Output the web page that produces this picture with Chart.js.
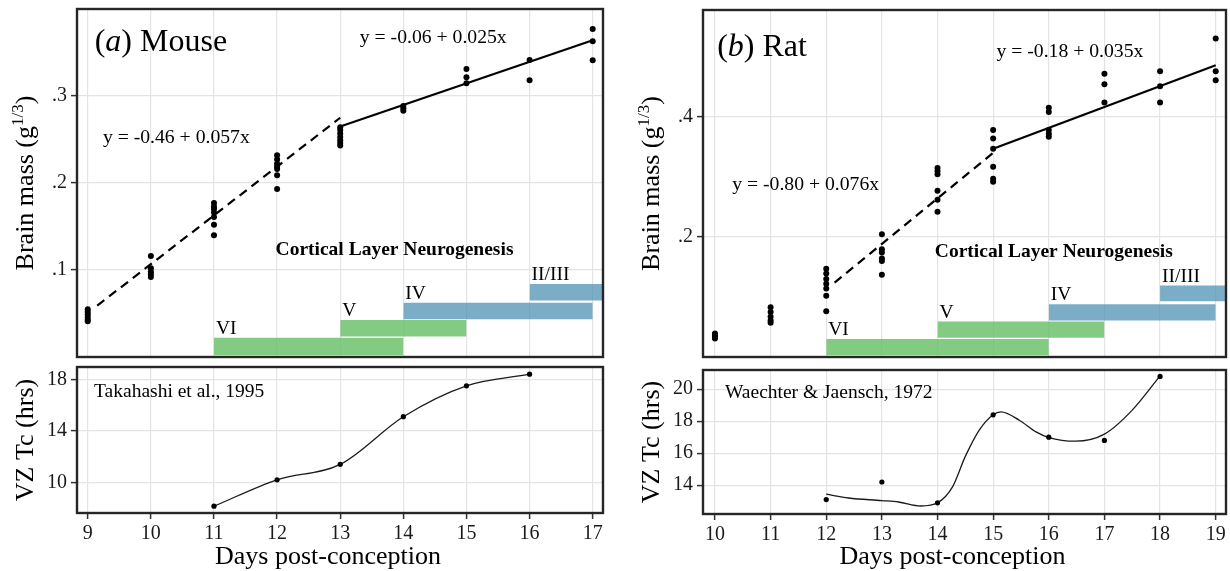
<!DOCTYPE html>
<html>
<head>
<meta charset="utf-8">
<title>Brain mass and VZ cell cycle, mouse and rat</title>
<script src="https://cdn.jsdelivr.net/npm/chart.js@4.4.1/dist/chart.umd.min.js"></script>
<style>
  body { margin: 0; background: #fff; }
  #wrap { position: relative; width: 1230px; height: 571px; }
  #wrap canvas { position: absolute; left: 0; top: 0; }
</style>
</head>
<body>
<div id="wrap">
  <canvas id="mouseMass" width="1230" height="571"></canvas>
  <canvas id="mouseTc" width="1230" height="571"></canvas>
  <canvas id="ratMass" width="1230" height="571"></canvas>
  <canvas id="ratTc" width="1230" height="571"></canvas>
</div>
<script>
var SERIF = '"Liberation Serif", "Times New Roman", serif';

// days post-conception
var mouseDays = [9, 10, 11, 12, 13, 14, 15, 16, 17];
var ratDays = [10, 11, 12, 13, 14, 15, 16, 17, 18, 19];

// brain mass (g^1/3), one list per day
var mouseMass = [
  [0.055, 0.052, 0.049, 0.046, 0.043, 0.041],
  [0.116, 0.102, 0.098, 0.095, 0.092],
  [0.177, 0.173, 0.170, 0.166, 0.161, 0.152, 0.140],
  [0.232, 0.227, 0.222, 0.219, 0.216, 0.209, 0.193],
  [0.264, 0.261, 0.257, 0.253, 0.249, 0.246, 0.243],
  [0.2885, 0.286, 0.283],
  [0.331, 0.3215, 0.3146],
  [0.3414, 0.318],
  [0.377, 0.363, 0.341]
];
var ratMass = [
  [0.039, 0.036, 0.034, 0.031],
  [0.083, 0.075, 0.067, 0.061, 0.057],
  [0.147, 0.139, 0.130, 0.122, 0.114, 0.102, 0.076],
  [0.2045, 0.1795, 0.174, 0.164, 0.160, 0.137],
  [0.315, 0.310, 0.3045, 0.277, 0.262, 0.242],
  [0.378, 0.364, 0.347, 0.317, 0.297, 0.292],
  [0.415, 0.408, 0.378, 0.372, 0.367],
  [0.472, 0.4545, 0.424],
  [0.476, 0.451, 0.424],
  [0.5305, 0.476, 0.461]
];

// fitted lines (ends)
var mouseEarlyX = [9.15, 13], mouseEarlyY = [0.059, 0.275];
var mouseLateX = [13, 17], mouseLateY = [0.265, 0.364];
var ratEarlyX = [12.15, 15], ratEarlyY = [0.124, 0.34];
var ratLateX = [15, 19], ratLateY = [0.347, 0.486];

// cortical layer neurogenesis windows
var layerNames = ['VI', 'V', 'IV', 'II/III'];
var mouseLayerStart = [11, 13, 14, 16];
var mouseLayerEnd = [14, 15, 17, 17.5];
var mouseLayerLow = [0.002, 0.0235, 0.0435, 0.065];
var mouseLayerHigh = [0.022, 0.0425, 0.0625, 0.084];
var ratLayerStart = [12, 14, 16, 18];
var ratLayerEnd = [16, 17, 19, 19.5];
var ratLayerLow = [0.003, 0.032, 0.061, 0.093];
var ratLayerHigh = [0.030, 0.059, 0.088, 0.119];

// VZ cell cycle length (hrs)
var mouseTcDays = [11, 12, 13, 14, 15, 16];
var mouseTc = [8.15, 10.2, 11.4, 15.1, 17.5, 18.4];
var ratTcDays = [12, 13, 14, 15, 16, 17, 18];
var ratTc = [13.1, 14.2, 12.9, 18.4, 17.0, 16.8, 20.8];
var ratSmoothDays = [12, 12.4, 13, 13.3, 13.7, 14, 14.27, 14.5, 14.75, 15, 15.14, 15.47, 15.77, 16, 16.48, 17, 17.5, 18];
var ratSmooth = [13.44, 13.2, 13.04, 12.95, 12.7, 12.9, 13.9, 15.8, 17.44, 18.4, 18.58, 18.06, 17.33, 16.98, 16.75, 17.19, 18.69, 20.83];

// tick values
var mouseMassTicks = [0.1, 0.2, 0.3];
var ratMassTicks = [0.2, 0.4];
var mouseTcTicks = [10, 14, 18];
var ratTcTicks = [14, 16, 18, 20];

var GRID = '#e4e4e4';
var GREEN = 'rgba(100,190,100,0.8)';
var BLUE = 'rgba(80,145,180,0.75)';

function pts(xs, ys){
  return xs.map(function(x, i){ return {x: x, y: ys[i]}; });
}
function groupPts(days, groups){
  var out = [];
  groups.forEach(function(g, i){
    g.forEach(function(v){ out.push({x: days[i], y: v}); });
  });
  return out;
}
function seg(t, size, style){
  return {t: t, font: (style ? style + ' ' : '') + size + 'px ' + SERIF};
}
function drawParts(ctx, parts, x, y, align){
  var total = 0;
  parts.forEach(function(p){ ctx.font = p.font; p.w = ctx.measureText(p.t).width; total += p.w; });
  var cx = align === 'center' ? x - total / 2 : x;
  parts.forEach(function(p){
    ctx.font = p.font;
    ctx.textAlign = 'left';
    ctx.fillText(p.t, cx, y + (p.dy || 0));
    cx += p.w;
  });
}

var panelPlugin = {
  id: 'panel',
  afterDraw: function(chart, args, opts){
    var ctx = chart.ctx, a = chart.chartArea;
    var xs = chart.scales.x, ys = chart.scales.y;
    ctx.save();
    ctx.strokeStyle = '#262626';
    ctx.lineWidth = 2.4;
    ctx.strokeRect(a.left, a.top, a.right - a.left, a.bottom - a.top);
    ctx.fillStyle = '#000';
    ctx.textBaseline = 'alphabetic';
    (opts.notes || []).forEach(function(n){
      drawParts(ctx, n.parts, xs.getPixelForValue(n.x) + (n.dx || 0), ys.getPixelForValue(n.y) + (n.dy || 0), n.align || 'left');
    });
    if (opts.yTitle) {
      ctx.save();
      ctx.translate(a.left - 44, (a.top + a.bottom) / 2);
      ctx.rotate(-Math.PI / 2);
      drawParts(ctx, opts.yTitle, 0, 0, 'center');
      ctx.restore();
    }
    if (opts.xTitle) drawParts(ctx, opts.xTitle, (a.left + a.right) / 2 - 12, 564, 'center');
    ctx.restore();
  }
};

function dayAxis(min, max, days, showLabels, height){
  return {
    type: 'linear', min: min, max: max,
    afterBuildTicks: function(s){ s.ticks = days.map(function(v){ return {value: v}; }); },
    afterFit: function(s){ s.height = height; s.paddingLeft = 0; s.paddingRight = 0; },
    ticks: { display: showLabels, autoSkip: false, maxRotation: 0, padding: 3,
             color: '#1a1a1a', font: {family: 'Liberation Serif', size: 20} },
    grid: { color: GRID, lineWidth: 1.2, drawTicks: showLabels, tickLength: 6, tickColor: '#333', tickWidth: 1.5 },
    border: { display: false }
  };
}
function valueAxis(min, max, ticks, fmt, width){
  return {
    type: 'linear', min: min, max: max,
    afterBuildTicks: function(s){ s.ticks = ticks.map(function(v){ return {value: v}; }); },
    afterFit: function(s){ s.width = width; s.paddingTop = 0; s.paddingBottom = 0; },
    ticks: { padding: 4, color: '#1a1a1a', font: {family: 'Liberation Serif', size: 20}, callback: fmt },
    grid: { color: GRID, lineWidth: 1.2, drawTicks: true, tickLength: 6, tickColor: '#333', tickWidth: 1.5 },
    border: { display: false }
  };
}
function massFmt(v){ return v.toFixed(1).replace(/^0/, ''); }
function hrsFmt(v){ return String(v); }

function layerSets(start, end, low, high){
  var out = [];
  layerNames.forEach(function(name, i){
    var col = i < 2 ? GREEN : BLUE;
    out.push({ type: 'line', data: pts([start[i], end[i]], [low[i], low[i]]), borderColor: 'rgba(0,0,0,0)',
               borderWidth: 0, pointRadius: 0, fill: false, order: 3 });
    out.push({ type: 'line', data: pts([start[i], end[i]], [high[i], high[i]]), borderColor: 'rgba(0,0,0,0)',
               borderWidth: 0, pointRadius: 0, fill: '-1', backgroundColor: col, order: 3 });
  });
  return out;
}
function layerNotes(start, high){
  return layerNames.map(function(n, i){
    return {x: start[i], y: high[i], dx: 2, dy: -4, parts: [seg(n, 19.5)]};
  });
}
function fitLine(xs, ys, dashed){
  return { type: 'line', data: pts(xs, ys), borderColor: '#000', borderWidth: 2.2, pointRadius: 0,
           borderDash: dashed ? [9, 6] : [], fill: false, order: 2 };
}
function dots(data, r){
  return { type: 'scatter', data: data, pointRadius: r, pointBackgroundColor: '#000', pointBorderWidth: 0,
           showLine: false, order: 1 };
}
function baseOptions(padding, scales, panel){
  return {
    responsive: false, animation: false, devicePixelRatio: 1, events: [],
    layout: { padding: padding },
    scales: scales,
    plugins: { legend: {display: false}, tooltip: {enabled: false}, panel: panel }
  };
}

var massTitle = [seg('Brain mass (g', 26), {t: '1/3', font: '17px ' + SERIF, dy: -10}, seg(')', 26)];
var tcTitle = [seg('VZ Tc (hrs)', 26)];
var dayTitle = [seg('Days post-conception', 26)];

// (a) mouse, brain mass
new Chart(document.getElementById('mouseMass'), {
  type: 'scatter',
  data: { datasets: layerSets(mouseLayerStart, mouseLayerEnd, mouseLayerLow, mouseLayerHigh).concat([
    fitLine(mouseEarlyX, mouseEarlyY, true),
    fitLine(mouseLateX, mouseLateY, false),
    dots(groupPts(mouseDays, mouseMass), 3)
  ]) },
  options: baseOptions({left: 0, right: 627, top: 9, bottom: 0}, {
    x: dayAxis(8.83, 17.163, mouseDays, false, 214),
    y: valueAxis(0, 0.4, mouseMassTicks, massFmt, 77)
  }, {
    yTitle: massTitle,
    notes: [
      {x: 9.11, y: 0.352, parts: [seg('(', 32), seg('a', 32, 'italic'), seg(') Mouse', 32)]},
      {x: 9.24, y: 0.2463, parts: [seg('y = -0.46 + 0.057x', 19.7)]},
      {x: 13.31, y: 0.3606, parts: [seg('y = -0.06 + 0.025x', 19.7)]},
      {x: 13.86, y: 0.117, align: 'center', parts: [seg('Cortical Layer Neurogenesis', 19.5, 'bold')]}
    ].concat(layerNotes(mouseLayerStart, mouseLayerHigh))
  }),
  plugins: [panelPlugin]
});

// mouse VZ cell cycle
new Chart(document.getElementById('mouseTc'), {
  type: 'scatter',
  data: { datasets: [{
    type: 'line', data: pts(mouseTcDays, mouseTc), borderColor: '#1a1a1a', borderWidth: 1.3,
    pointRadius: 2.6, pointBackgroundColor: '#000', pointBorderWidth: 0,
    cubicInterpolationMode: 'monotone', fill: false
  }] },
  options: baseOptions({left: 0, right: 627, top: 367, bottom: 0}, {
    x: dayAxis(8.83, 17.163, mouseDays, true, 58),
    y: valueAxis(7.62, 18.96, mouseTcTicks, hrsFmt, 77)
  }, {
    yTitle: tcTitle,
    xTitle: dayTitle,
    notes: [{x: 9.1, y: 16.6, parts: [seg('Takahashi et al., 1995', 19.5)]}]
  }),
  plugins: [panelPlugin]
});

// (b) rat, brain mass
new Chart(document.getElementById('ratMass'), {
  type: 'scatter',
  data: { datasets: layerSets(ratLayerStart, ratLayerEnd, ratLayerLow, ratLayerHigh).concat([
    fitLine(ratEarlyX, ratEarlyY, true),
    fitLine(ratLateX, ratLateY, false),
    dots(groupPts(ratDays, ratMass), 3)
  ]) },
  options: baseOptions({left: 640, right: 3, top: 10, bottom: 0}, {
    x: dayAxis(9.785, 19.185, ratDays, false, 214),
    y: valueAxis(0, 0.578, ratMassTicks, massFmt, 63)
  }, {
    yTitle: massTitle,
    notes: [
      {x: 10.04, y: 0.501, parts: [seg('(', 32), seg('b', 32, 'italic'), seg(') Rat', 32)]},
      {x: 10.31, y: 0.278, parts: [seg('y = -0.80 + 0.076x', 19.7)]},
      {x: 15.06, y: 0.5, parts: [seg('y = -0.18 + 0.035x', 19.7)]},
      {x: 16.09, y: 0.167, align: 'center', parts: [seg('Cortical Layer Neurogenesis', 19.5, 'bold')]}
    ].concat(layerNotes(ratLayerStart, ratLayerHigh))
  }),
  plugins: [panelPlugin]
});

// rat VZ cell cycle
new Chart(document.getElementById('ratTc'), {
  type: 'scatter',
  data: { datasets: [
    { type: 'line', data: pts(ratSmoothDays, ratSmooth), borderColor: '#1a1a1a', borderWidth: 1.3,
      pointRadius: 0, cubicInterpolationMode: 'monotone', fill: false, order: 2 },
    dots(pts(ratTcDays, ratTc), 2.6)
  ] },
  options: baseOptions({left: 640, right: 3, top: 370, bottom: 0}, {
    x: dayAxis(9.785, 19.185, ratDays, true, 57),
    y: valueAxis(12.2, 21.2, ratTcTicks, hrsFmt, 63)
  }, {
    yTitle: tcTitle,
    xTitle: dayTitle,
    notes: [{x: 10.18, y: 19.44, parts: [seg('Waechter & Jaensch, 1972', 19.5)]}]
  }),
  plugins: [panelPlugin]
});
</script>
</body>
</html>
